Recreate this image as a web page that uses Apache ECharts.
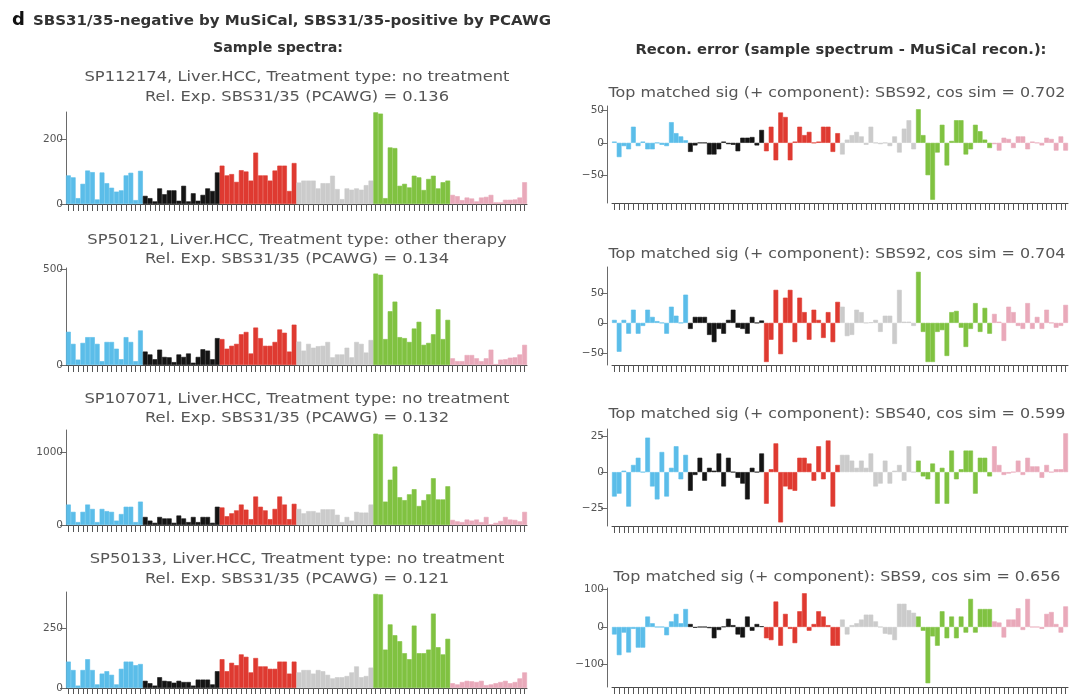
<!DOCTYPE html>
<html>
<head>
<meta charset="utf-8">
<script src="https://cdn.jsdelivr.net/npm/echarts@6/dist/echarts.min.js"></script>
<style>
  html, body { margin: 0; padding: 0; background: #ffffff; }
  #chart { width: 1073px; height: 694px; }
</style>
</head>
<body>
<div id="chart"></div>
<script>
// Substitution classes and flanking bases of the 96-channel SBS spectrum
const mutationTypes = ['C>A', 'C>G', 'C>T', 'T>A', 'T>C', 'T>G'];
const flankBases = ['A', 'C', 'G', 'T'];
const categories = [];
mutationTypes.forEach(m => flankBases.forEach(l => flankBases.forEach(r => categories.push(l + '[' + m + ']' + r))));

// Sample spectra (mutation counts), one row per substitution class
const specSP112174 = [
  88, 82, 18, 62, 103, 98, 14, 97, 64, 50, 38, 42, 88, 96, 12, 102,
  25, 18, 8, 48, 30, 42, 42, 10, 56, 8, 33, 10, 28, 48, 40, 97,
  118, 88, 92, 68, 104, 100, 72, 158, 88, 88, 72, 103, 118, 118, 40, 126,
  66, 72, 72, 72, 48, 64, 64, 87, 46, 15, 48, 44, 48, 44, 58, 72,
  282, 278, 18, 174, 172, 56, 62, 51, 87, 82, 43, 77, 87, 48, 67, 72,
  28, 24, 12, 20, 17, 8, 20, 22, 28, 5, 5, 13, 13, 14, 20, 67
];
const specSP50121 = [
  173, 110, 28, 115, 145, 145, 110, 20, 120, 120, 85, 30, 145, 120, 20, 180,
  70, 55, 30, 80, 42, 40, 15, 55, 42, 60, 12, 42, 82, 75, 30, 140,
  135, 85, 100, 110, 160, 172, 60, 195, 140, 100, 100, 120, 185, 168, 70, 210,
  122, 75, 110, 90, 98, 100, 120, 40, 55, 55, 90, 40, 120, 110, 65, 130,
  476, 470, 135, 280, 330, 145, 140, 120, 190, 225, 105, 115, 160, 290, 135, 235,
  35, 20, 20, 52, 52, 35, 20, 35, 80, 5, 28, 30, 38, 40, 55, 105
];
const specSP107071 = [
  280, 180, 40, 180, 280, 220, 40, 220, 190, 180, 60, 150, 250, 250, 40, 320,
  110, 60, 30, 110, 90, 90, 30, 130, 90, 40, 110, 40, 110, 110, 30, 250,
  240, 120, 160, 200, 280, 210, 80, 390, 250, 200, 80, 220, 390, 280, 80, 290,
  220, 160, 190, 190, 170, 215, 215, 215, 140, 40, 110, 60, 180, 170, 170, 280,
  1250, 1240, 320, 620, 800, 380, 340, 420, 490, 260, 340, 420, 640, 350, 350, 530,
  70, 50, 40, 75, 60, 75, 40, 110, 10, 30, 55, 110, 75, 70, 50, 180
];
const specSP50133 = [
  110, 75, 10, 75, 120, 75, 15, 60, 70, 55, 15, 80, 110, 110, 95, 100,
  30, 20, 10, 45, 30, 28, 22, 30, 25, 25, 10, 35, 35, 35, 15, 70,
  120, 70, 105, 95, 140, 130, 65, 125, 90, 90, 80, 80, 110, 110, 60, 110,
  65, 75, 75, 60, 75, 70, 55, 40, 45, 45, 50, 65, 90, 45, 50, 85,
  392, 390, 160, 265, 220, 195, 145, 120, 260, 145, 145, 160, 310, 170, 140, 205,
  20, 15, 25, 30, 28, 25, 30, 12, 15, 20, 25, 30, 20, 25, 40, 65
];

// Reconstruction error (sample spectrum - MuSiCal reconstruction)
const errSP112174 = [
  2, -22, -5, -10, 25, -5, 2, -10, -10, 0, -3, -5, 32, 15, 10, 4,
  -14, -4, 0, 0, -18, -18, -10, 2, -2, -3, -13, 8, 8, 9, -4, 20,
  -13, 25, -27, 47, 40, -27, 2, 25, 12, 17, 0, 2, 25, 25, -14, 15,
  -18, 5, 12, 17, 10, -3, 25, 0, -2, 0, -5, 10, -15, 22, 35, -10,
  52, 12, -50, -88, -15, 28, -35, 3, 35, 35, -18, -10, 28, 18, 5, -8,
  -2, -12, 8, 6, -8, 10, 10, -10, 2, 0, -4, 8, 6, -12, 10, -12
];
const errSP50121 = [
  5, -48, 5, -18, 22, -18, -5, 22, 10, 3, 0, -18, 27, 12, 0, 47,
  -10, 10, 10, 10, -20, -32, -10, -18, 5, 22, -8, -10, -18, 10, 0, 4,
  -65, -28, 55, -52, 42, 55, -32, 42, 18, -28, 22, 5, -25, 18, -32, 35,
  27, -22, -20, 22, 18, 0, 1, 5, -15, 12, 12, -35, 55, 2, 2, -5,
  85, -15, -65, -65, -15, -12, -55, 18, 20, -8, -40, -10, 33, -15, 25, -18,
  15, 2, -30, 27, 18, -5, -10, 33, -10, 10, -10, 22, 0, -8, -5, 30
];
const errSP107071 = [
  -17, -15, 1, -24, 5, 10, 0, 24, -10, -19, 14, -17, 3, 18, -5, 12,
  -13, -2, 10, -6, 3, 1, 13, -10, 10, 0, -4, -8, -19, 3, 0, 13,
  -22, 2, 20, -35, -10, -12, -13, 10, 10, 6, -6, 18, -5, 22, -24, 5,
  12, 12, 8, 3, 8, 3, 13, -10, -8, 8, -8, 1, 5, -6, 18, 0,
  8, -3, -5, 6, -22, 3, -22, 15, -5, 2, 15, 15, -15, 10, 10, -3,
  18, 5, -2, -1, 0, 8, -2, 10, 4, 4, -4, 5, 0, 2, 2, 27
];
const errSP50133 = [
  -20, -75, -15, -68, -5, -55, -55, 28, 10, 0, 0, -22, 15, 35, 10, 48,
  8, -2, 0, 0, -3, -30, -8, 1, 22, 5, -20, -28, 28, -10, 8, 2,
  -30, -35, 68, -50, 35, -5, -43, 42, 90, -10, 8, 42, 28, 5, -50, -50,
  20, -20, 5, 10, 20, 33, 33, 15, 0, -18, -20, -35, 62, 62, 45, 38,
  28, -10, -150, -25, -50, 42, -30, 28, -30, 28, -15, 75, -15, 48, 48, 48,
  15, 12, -28, 20, 20, 50, -8, 75, 0, 0, -5, 35, 40, 8, -15, 55
];

// Panel annotations
const sampleIds = ['SP112174', 'SP50121', 'SP107071', 'SP50133'];
const treatmentTypes = ['no treatment', 'other therapy', 'no treatment', 'no treatment'];
const relExposures = ['0.136', '0.134', '0.132', '0.121'];
const topSigs = ['SBS92', 'SBS92', 'SBS40', 'SBS9'];
const cosSims = ['0.702', '0.704', '0.599', '0.656'];
const spectrumTicks = [[0, 200], [0, 500], [0, 1000], [0, 250]];
const errorTicks = [[-50, 0, 50], [-50, 0, 50], [-25, 0, 25], [-100, 0, 100]];

const spectra = [specSP112174, specSP50121, specSP107071, specSP50133];
const errors = [errSP112174, errSP50121, errSP107071, errSP50133];

const classColors = ['#5BBDE9', '#141414', '#DF3A31', '#CBCBCB', '#80C241', '#E9A9BA'];

// Plot geometry
const leftPanels = [
  { top: 112, height: 92, max: 283 },
  { top: 268, height: 97, max: 505 },
  { top: 430, height: 95, max: 1300 },
  { top: 592, height: 96, max: 400 }
];
const rightPanels = [
  { top: 106, height: 97, min: -93, max: 57 },
  { top: 267, height: 98, min: -70, max: 93 },
  { top: 429, height: 97, min: -37.5, max: 30 },
  { top: 588, height: 99, min: -160, max: 104 }
];
const leftX = 66, leftW = 461;
const rightX = 612, rightW = 456;

const FONT = '"DejaVu Sans"';
const grids = [], xAxes = [], yAxes = [], series = [], texts = [];

function barItems(values) {
  return values.map((v, i) => {
    const c = classColors[Math.floor(i / 16)];
    return { value: v, itemStyle: { color: c, borderColor: c, borderWidth: 0.6 } };
  });
}

function addPanel(geom, x, w, values, ticks, isError) {
  const idx = grids.length;
  grids.push({ left: x, top: geom.top, width: w, height: geom.height, containLabel: false });
  xAxes.push({
    type: 'category', gridIndex: idx, data: categories,
    axisLine: { onZero: false, lineStyle: { color: '#4a4a4a', width: 1 } },
    axisTick: { show: true, alignWithLabel: true, interval: 0, length: 7, lineStyle: { color: '#555', width: 1 } },
    axisLabel: { show: false },
    splitLine: { show: false }
  });
  yAxes.push({
    type: 'value', gridIndex: idx,
    min: isError ? geom.min : 0, max: geom.max,
    offset: isError ? 5 : 0,
    axisLine: { show: true, lineStyle: { color: '#6a6a6a', width: 1 } },
    axisTick: { show: true, length: 6, customValues: ticks, lineStyle: { color: '#6a6a6a' } },
    axisLabel: {
      customValues: ticks, margin: 3, color: '#555', fontFamily: FONT, fontSize: 10.5,
      formatter: v => (v < 0 ? '\u2212' + Math.abs(v) : String(v))
    },
    splitLine: { show: false }
  });
  series.push({
    type: 'bar', xAxisIndex: idx, yAxisIndex: idx,
    data: barItems(values), barCategoryGap: '0%', barWidth: '100%',
    silent: true, animation: false
  });
}

for (let i = 0; i < 4; i++) {
  addPanel(leftPanels[i], leftX, leftW, spectra[i], spectrumTicks[i], false);
  addPanel(rightPanels[i], rightX, rightW, errors[i], errorTicks[i], true);
}

// Text is set in DejaVu Sans and widened horizontally to the figure's lettering
const measureCtx = document.createElement('canvas').getContext('2d');
function widthOf(str, size, weight) {
  measureCtx.font = weight + ' ' + size + 'px ' + FONT;
  return measureCtx.measureText(str).width;
}
function text(str, x, y, opts) {
  const o = Object.assign({ size: 14, weight: 'normal', fill: '#555', align: 'center', scaleX: 1 }, opts || {});
  texts.push({
    type: 'text', x: x, y: y, scaleX: o.scaleX, scaleY: 1,
    style: {
      text: str, fontFamily: FONT, fontSize: o.size, fontWeight: o.weight, fill: o.fill,
      textAlign: o.align, textVerticalAlign: 'middle'
    }
  });
}
function fitScale(str, size, weight, target) {
  return target / widthOf(str, size, weight);
}

// Figure headings
const headTitle = 'SBS31/35-negative by MuSiCal, SBS31/35-positive by PCAWG';
text('d', 12, 20, { align: 'left', size: 18, weight: 'bold', fill: '#111' });
text(headTitle, 33, 21, { align: 'left', size: 13.5, weight: 'bold', fill: '#333',
  scaleX: fitScale(headTitle, 13.5, 'bold', 518) });
const leftHead = 'Sample spectra:';
text(leftHead, 278, 48, { size: 13.5, weight: 'bold', fill: '#333',
  scaleX: fitScale(leftHead, 13.5, 'bold', 130) });
const rightHead = 'Recon. error (sample spectrum - MuSiCal recon.):';
text(rightHead, 841, 50, { size: 13.5, weight: 'bold', fill: '#333',
  scaleX: fitScale(rightHead, 13.5, 'bold', 411) });

// Panel titles
const leftTitleY = [[77, 97], [240, 259], [399, 418], [559, 579]];
const rightTitleY = [93, 254, 414, 577];
const leftLine = i => sampleIds[i] + ', Liver.HCC, Treatment type: ' + treatmentTypes[i];
const relLine = i => 'Rel. Exp. SBS31/35 (PCAWG) = ' + relExposures[i];
const sigLine = i => 'Top matched sig (+ component): ' + topSigs[i] + ', cos sim = ' + cosSims[i];
const leftScale = fitScale(leftLine(0), 14, 'normal', 425);
const rightScale = fitScale(sigLine(0), 14, 'normal', 457);
for (let i = 0; i < 4; i++) {
  text(leftLine(i), 297, leftTitleY[i][0], { scaleX: leftScale });
  text(relLine(i), 297, leftTitleY[i][1], { scaleX: leftScale });
  text(sigLine(i), 837, rightTitleY[i], { scaleX: rightScale });
}

const chart = echarts.init(document.getElementById('chart'), null, { renderer: 'canvas' });
chart.setOption({
  backgroundColor: '#ffffff',
  animation: false,
  grid: grids,
  xAxis: xAxes,
  yAxis: yAxes,
  series: series,
  graphic: texts
});
</script>
</body>
</html>
